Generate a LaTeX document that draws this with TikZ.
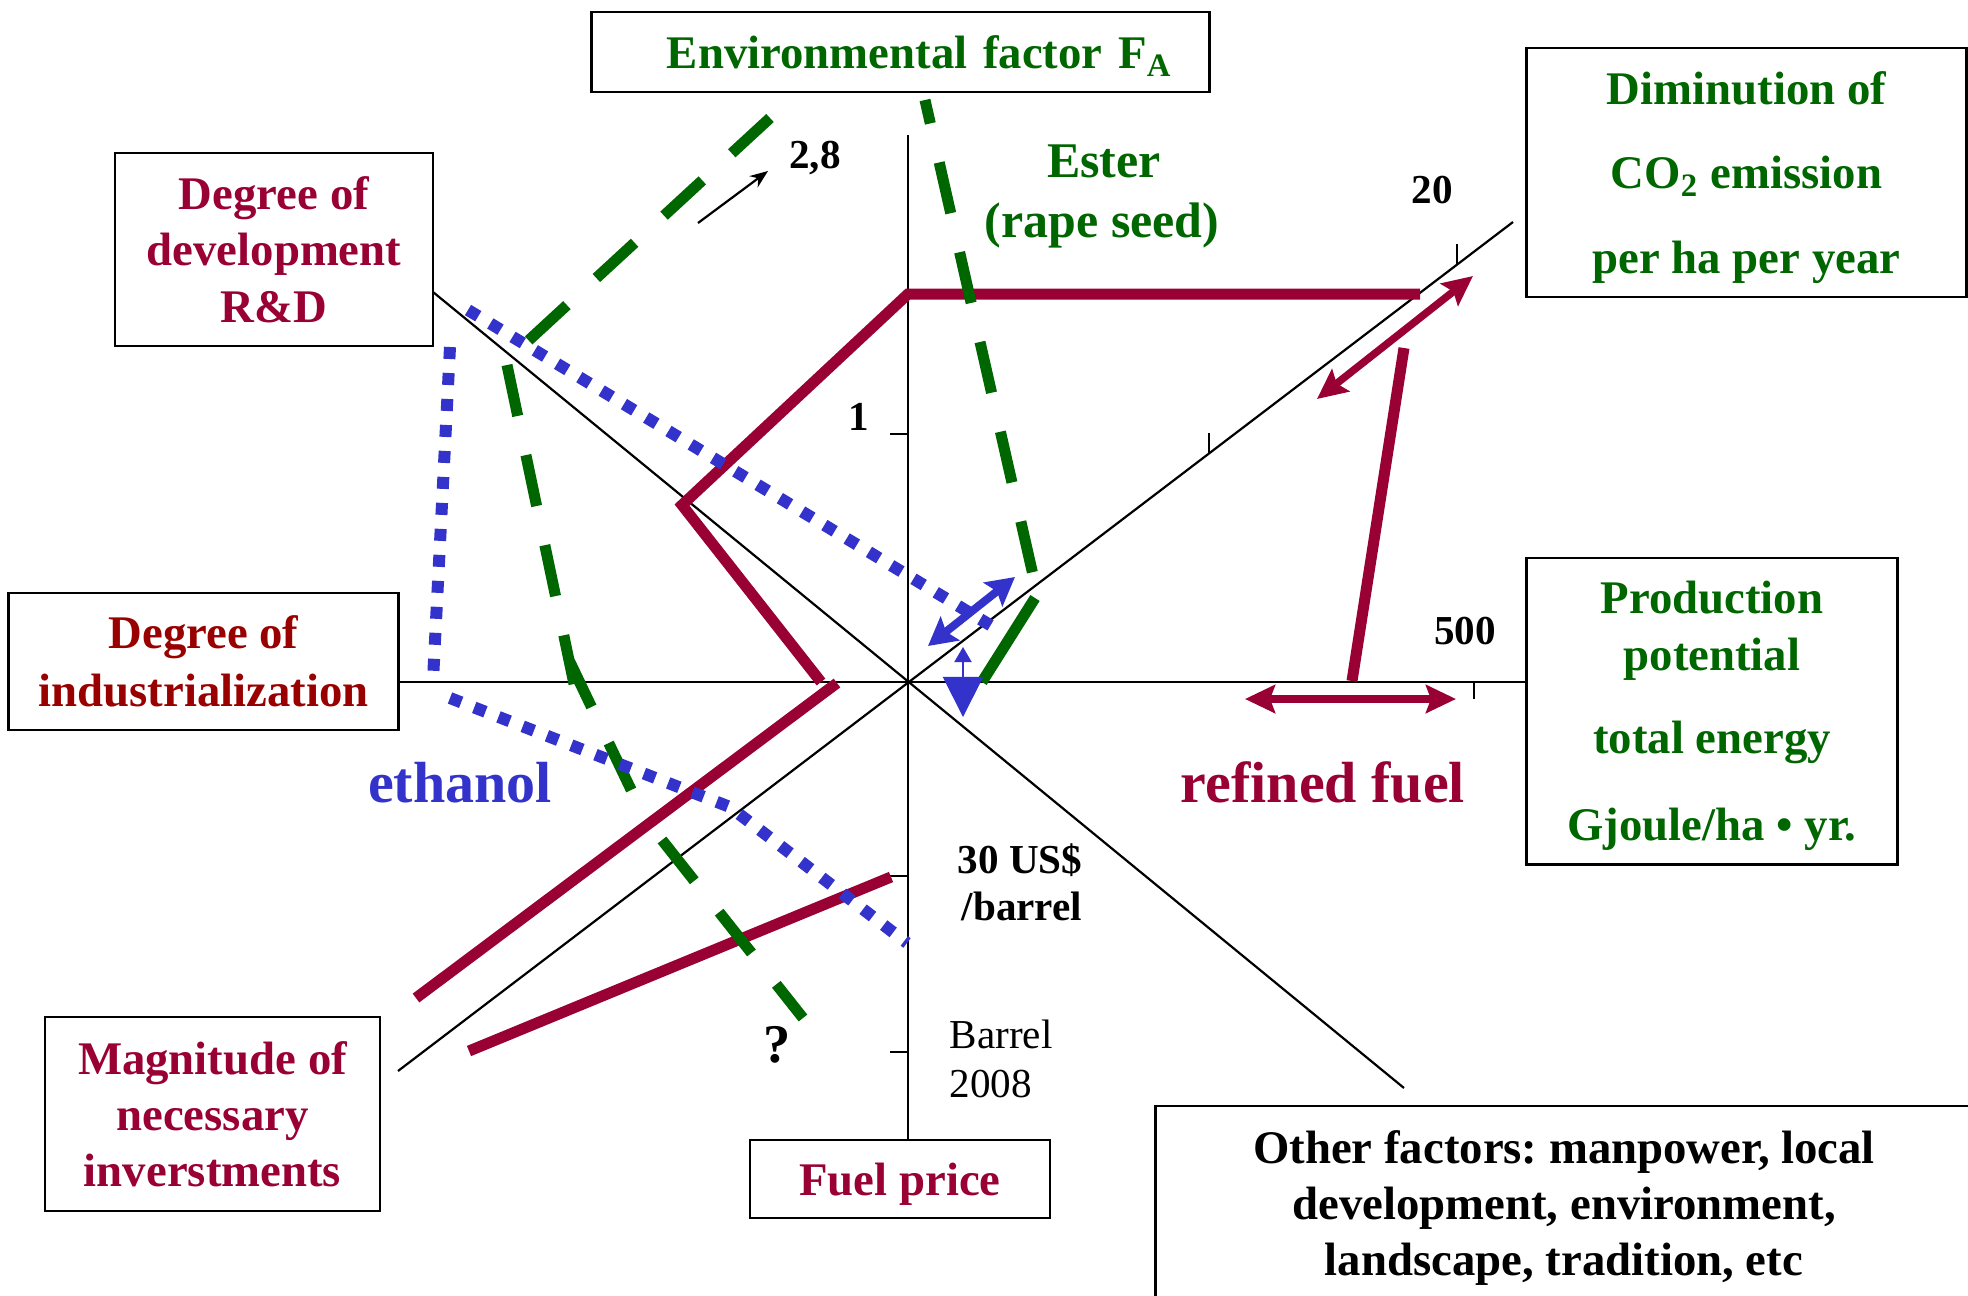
\documentclass[tikz,border=0pt]{standalone}
\usepackage{fontspec}
\setmainfont{Liberation Serif}
\usetikzlibrary{arrows.meta}
\definecolor{wine}{HTML}{990033}
\definecolor{brick}{HTML}{990000}
\definecolor{leaf}{HTML}{006600}
\definecolor{ink}{HTML}{3333CC}
\frenchspacing
\begin{document}
\begin{tikzpicture}
[
x=0.01cm, y=-0.01cm,
axis/.style={line width=0.022cm},
box/.style={draw, line width=0.028cm, inner sep=0pt, align=center, text depth=0pt,
  font=\fontsize{13.3}{16.2}\selectfont\bfseries},
num/.style={anchor=base, inner sep=0pt, font=\fontsize{11.7}{14}\selectfont\bfseries},
big/.style={anchor=base, inner sep=0pt, font=\fontsize{16.5}{19}\selectfont\bfseries},
refined/.style={wine, line width=0.11cm},
ester/.style={leaf, line width=0.11cm, dash pattern=on 0.52cm off 0.40cm},
ethanol/.style={ink, line width=0.12cm, dash pattern=on 0.12cm off 0.14cm},
wtip/.style={wine, line width=0.075cm,
  {Stealth[length=0.30cm,width=0.28cm,inset=0.05cm]}-{Stealth[length=0.30cm,width=0.28cm,inset=0.05cm]}}
]
\useasboundingbox (0,0) rectangle (1968,1296);

% the factor boxes
\node[box, text=leaf, minimum width=6.17cm, minimum height=0.8cm, text width=5.43cm, align=right]
  (fa) at (900.5,52) {Environmental factor F\textsubscript{A}};
\node[box, text=wine, minimum width=3.18cm, minimum height=1.93cm] (rd) at (274,249.5)
  {Degree of\\development\\R\&D};
\node[box, text=brick, minimum width=3.89cm, minimum height=1.37cm,
  font=\fontsize{13.3}{16.5}\selectfont\bfseries] (ind) at (203.5,661.5)
  {Degree of\\industrialization};
\node[box, text=wine, minimum width=3.35cm, minimum height=1.94cm,
  font=\fontsize{13.3}{15.9}\selectfont\bfseries] (inv) at (212.5,1114)
  {Magnitude of\\necessary\\inverstments};
\node[box, text=wine, minimum width=3.0cm, minimum height=0.78cm] (fuel) at (900,1179) {Fuel price};
\node[box, text=leaf, minimum width=4.39cm, minimum height=2.49cm,
  font=\fontsize{13.3}{24}\selectfont\bfseries] (co2) at (1746.5,172.5)
  {Diminution of\\CO\textsubscript{2} emission\\per ha per year};
\node[box, text=leaf, minimum width=3.70cm, minimum height=3.06cm] (prod) at (1712,711)
  {Production\\potential\\[7.4pt]total energy\\[8.5pt]Gjoule/ha • yr.};
\node[box, minimum width=8.16cm, minimum height=1.94cm,
  font=\fontsize{13.3}{15.8}\selectfont\bfseries] (other) at (1564,1203)
  {Other factors: manpower, local\\development, environment,\\landscape, tradition, etc};

% axes
\coordinate (O) at (908,682);
\coordinate (top) at (908,135);
\coordinate (nwend) at (433,292);
\coordinate (seend) at (1404,1088);
\coordinate (swend) at (398,1071);
\coordinate (neend) at (1513,222);
\draw[axis] (ind.east |- O) -- (prod.west |- O);
\draw[axis] (top) -- (O |- fuel.north);
\draw[axis] (nwend) -- (seend);
\draw[axis] (swend) -- (neend);
\foreach \y in {434,876,1052} \draw[axis] (890,\y) -- (908,\y);
\draw[axis] (1474,682) -- (1474,699);
\foreach \x/\y in {1209/453,1457/264} \draw[axis] (\x,\y) -- ++(0,-20);

% scale values
\node[num] (v1) at (859,430) {1};
\node[num] (v28) at (815,168) {2,8};
\node[num] (v20) at (1432,203) {20};
\node[num] (v500) at (1465,644) {500};
\node[num, anchor=base west] (usd) at (957,873) {30 US\$};
\node[num, anchor=base west] (perbarrel) at (961,920) {/barrel};
\node[num, anchor=base west, font=\fontsize{11.7}{14}\selectfont] (barrel) at (949,1048) {Barrel};
\node[num, anchor=base west, font=\fontsize{11.7}{14}\selectfont] (year) at (949,1097) {2008};
\node[num, font=\fontsize{15.5}{18}\selectfont\bfseries] (qm) at (777,1062) {?};
\coordinate (a28) at (698,223);
\coordinate (b28) at (768,171);
\draw[axis, -{Stealth[length=0.18cm,width=0.14cm]}] (a28) -- (b28);

% fuel names
\node[big, text=leaf, font=\fontsize{14.2}{17}\selectfont\bfseries] (ester) at (1104,177) {Ester};
\node[big, text=leaf, font=\fontsize{14.2}{17}\selectfont\bfseries] (rape) at (1102,237) {(rape seed)};
\node[big, text=ink] (eth) at (460,802) {ethanol};
\node[big, text=wine] (ref) at (1323,802) {refined fuel};

% refined fuel
\draw[refined] (821,682) -- (682,505) -- (908,294) -- (1420,294);
\draw[refined] (837,683) -- (416,998);
\draw[refined] (469,1051) -- (891,877);
\draw[refined] (1404,348) -- (1352,681);
\draw[wtip] (1317,399) -- (1473,276);
\draw[wtip] (1245,699) -- (1456,699);

% ester
\draw[ester, dash phase=0.28cm] (925,100) -- (1033,575);
\draw[leaf, line width=0.11cm] (1035,598) -- (982,682);
\draw[ester] (770,118) -- (528,341);
\draw[ester] (507,365) -- (574,684) (569,660) -- (636,800) (662,840) -- (803,1018);

% ethanol
\draw[ethanol] (468,310) -- (995,628);
\draw[ethanol] (450,347) -- (433,680);
\draw[ethanol] (450,698) -- (730,807) -- (907,943);
\draw[ink, line width=0.08cm,
  {Stealth[length=0.28cm,width=0.30cm,inset=0.05cm]}-{Stealth[length=0.28cm,width=0.30cm,inset=0.05cm]}]
  (928,646) -- (1015,577);
\draw[ink, line width=0.02cm, {Triangle[length=0.15cm,width=0.17cm]}-{Triangle[length=0.40cm,width=0.40cm]}]
  (963,647) -- (963,717);
\end{tikzpicture}
\end{document}
